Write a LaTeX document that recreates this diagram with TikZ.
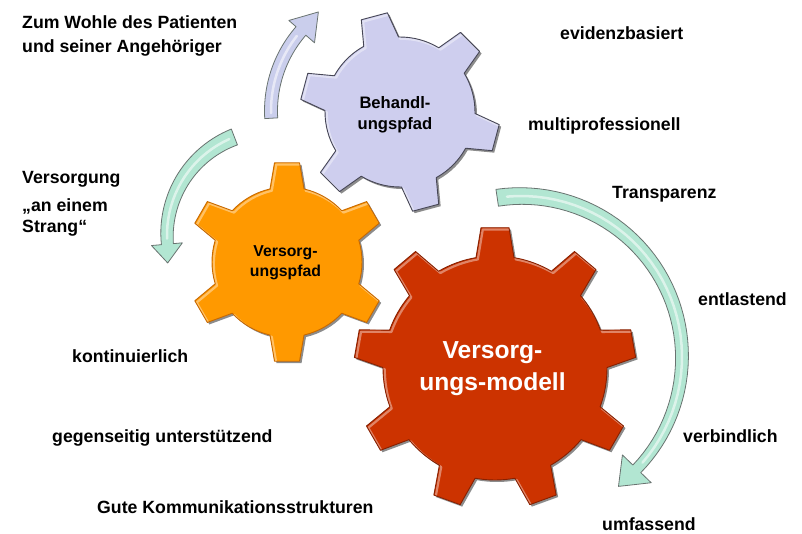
\documentclass[tikz,border=0pt]{standalone}
\usepackage{fontspec}
\setmainfont{Liberation Sans}
\begin{document}
\definecolor{mintfill}{RGB}{178,230,210}
\definecolor{arrowline}{RGB}{105,115,112}
\definecolor{lilacfill}{RGB}{202,206,236}
\definecolor{lavgear}{RGB}{206,206,238}
\definecolor{lavline}{RGB}{70,70,85}
\definecolor{orgear}{RGB}{255,153,0}
\definecolor{orline}{RGB}{200,105,0}
\definecolor{redgear}{RGB}{204,51,0}
\definecolor{redline}{RGB}{135,32,0}
% gear outline: #1 style, #2 centre, #3 teeth, #4 phase, #5 root radius,
% #6 tip radius, #7 half width at root, #8 half width at tip
\newcommand{\drawgear}[8]{%
  \pgfmathsetmacro\gstep{360/#3}%
  \pgfmathsetmacro\gab{asin(#7/#5)}%
  \pgfmathsetmacro\gat{asin(#8/#6)}%
  \pgfmathtruncatemacro\glast{#3-1}%
  \path[#1,shift={#2}] ({#4-\gab}:#5pt)
    \foreach \k in {0,...,\glast}{
      -- ({#4+\k*\gstep-\gat}:#6pt) -- ({#4+\k*\gstep+\gat}:#6pt)
      -- ({#4+\k*\gstep+\gab}:#5pt)
      arc[start angle={#4+\k*\gstep+\gab}, end angle={#4+(\k+1)*\gstep-\gab}, radius=#5pt]
    } -- cycle;%
}
% full gear with drop shadow, bevel highlight and outline:
% #1 fill, #2 line colour, #3 x, #4 y, #5 teeth, #6 phase, #7 root r, #8 tip r, #9 half widths
\newcommand{\fullgear}[9]{%
  \drawgear{gearshadow}{(#3+2,#4-2)}{#5}{#6}{#7}{#8}#9%
  \drawgear{fill=#1}{(#3,#4)}{#5}{#6}{#7}{#8}#9%
  \begin{scope}
    \drawgear{clip}{(#3,#4)}{#5}{#6}{#7}{#8}#9%
    \drawgear{bevel}{(#3+1.8,#4-1.8)}{#5}{#6}{#7}{#8}#9%
  \end{scope}
  \drawgear{draw=#2,line width=0.9pt,line join=round}{(#3,#4)}{#5}{#6}{#7}{#8}#9%
}
\begin{tikzpicture}[x=1pt,y=1pt,
  lbl/.style={anchor=base west,inner sep=0pt,font=\fontsize{17.7}{21}\selectfont\bfseries},
  geartext/.style={anchor=base,inner sep=0pt,font=\fontsize{#1}{20}\selectfont\bfseries},
  gearshadow/.style={fill=black,opacity=0.45},
  bevel/.style={draw=white,line width=2.2pt,opacity=0.4,line join=round},
  blockarrow/.style={draw=arrowline,line width=0.8pt,line join=round},
  sheen/.style={draw=white,line width=2.5pt,opacity=0.55,line cap=round}]
\useasboundingbox (0,0) rectangle (802,533);
\fill[white] (0,0) rectangle (802,533);

% lilac arrow rising to the top left of the treatment gear
\path[blockarrow,fill=lilacfill]
  plot[domain=183.4:139,samples=30] ({393+128.5*cos(\x)},{422+128.5*sin(\x)})
  -- ({393+138*cos(139)},{422+138*sin(139)})
  -- ({393+124*cos(127)},{422+124*sin(127)})
  -- ({393+104*cos(139)},{422+104*sin(139)})
  -- plot[domain=139:183.4,samples=30] ({393+115.5*cos(\x)},{422+115.5*sin(\x)})
  -- cycle;
\draw[sheen] plot[domain=181:142,samples=20] ({393+122*cos(\x)},{422+122*sin(\x)});

% mint arrow on the left, running down
\def\wl{(12+5*(185-\x)/74)}
\path[blockarrow,fill=mintfill]
  plot[domain=111:185,samples=30] ({272+(105+\wl/2)*cos(\x)},{298+(105+\wl/2)*sin(\x)})
  -- ({272+121*cos(185)},{298+121*sin(185)})
  -- ({272+108*cos(195)},{298+108*sin(195)})
  -- ({272+90*cos(185)},{298+90*sin(185)})
  -- plot[domain=185:111,samples=30] ({272+(105-\wl/2)*cos(\x)},{298+(105-\wl/2)*sin(\x)})
  -- cycle;
\draw[sheen] plot[domain=114:182,samples=20] ({272+105*cos(\x)},{298+105*sin(\x)});

% treatment pathway gear
\fullgear{lavgear}{lavline}{400}{421}{6}{105}{75}{100}{{18}{13.5}}
\node[geartext=16.6] (beh1) at (395,424.7) {Behandl-};
\node[geartext=16.6] (beh2) at (395,403.7) {ungspfad};

% care pathway gear
\fullgear{orgear}{orline}{287}{271}{6}{90}{75}{100}{{17}{12.5}}
\node[geartext=15.8] (vp1) at (285.5,276.3) {Versorg-};
\node[geartext=15.8] (vp2) at (285.5,256.3) {ungspfad};

% large mint arrow round the care model
\def\wr{(11+6*(\x+44)/142.5)}
\path[blockarrow,fill=mintfill]
  plot[domain=98.5:-44,samples=50] ({521+(161+\wr/2)*cos(\x)},{176+(161+\wr/2)*sin(\x)})
  -- ({521+181*cos(-44)},{176+181*sin(-44)})
  -- ({521+162*cos(-53)},{176+162*sin(-53)})
  -- ({521+141*cos(-44)},{176+141*sin(-44)})
  -- plot[domain=-44:98.5,samples=50] ({521+(161-\wr/2)*cos(\x)},{176+(161-\wr/2)*sin(\x)})
  -- cycle;
\draw[sheen] plot[domain=95:-41,samples=40] ({521+161*cos(\x)},{176+161*sin(\x)});

% care model gear
\fullgear{redgear}{redline}{495}{165}{9}{90}{112}{141}{{19}{14}}
\node[geartext=24.6,text=white] (vm1) at (492.5,175) {Versorg-};
\node[geartext=24.6,text=white] (vm2) at (492.5,143) {ungs-modell};

% attributes around the gears
\node[lbl] (t1) at (22,504) {Zum Wohle des Patienten};
\node[lbl] (t2) at (22,480.5) {und seiner Angehöriger};
\node[lbl] (t3) at (22,349) {Versorgung};
\node[lbl] (t4) at (22,321.5) {„an einem};
\node[lbl] (t5) at (22,300) {Strang“};
\node[lbl] (t6) at (560,493) {evidenzbasiert};
\node[lbl] (t7) at (528,402) {multiprofessionell};
\node[lbl] (t8) at (612,334) {Transparenz};
\node[lbl] (t9) at (698,227) {entlastend};
\node[lbl] (t10) at (72,171) {kontinuierlich};
\node[lbl] (t11) at (52,91) {gegenseitig unterstützend};
\node[lbl] (t12) at (97,20) {Gute Kommunikationsstrukturen};
\node[lbl] (t13) at (683,91) {verbindlich};
\node[lbl] (t14) at (602,3) {umfassend};
\end{tikzpicture}
\end{document}
